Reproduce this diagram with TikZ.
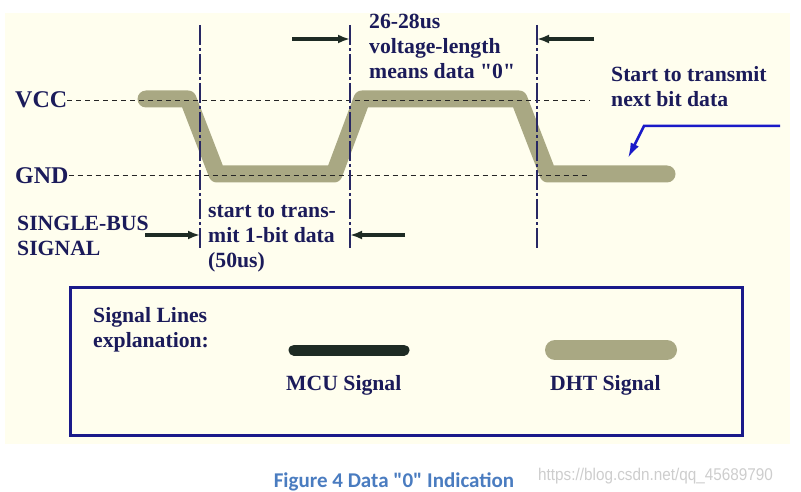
\documentclass[tikz,border=0pt]{standalone}
\usepackage{fontspec}
\setmainfont{Liberation Serif}
\newfontfamily\serifplain{Liberation Serif}
\newfontfamily\capfont{Carlito}
\newfontfamily\wmfont{Liberation Sans}
\usetikzlibrary{arrows.meta}
\definecolor{cream}{RGB}{255,254,238}
\definecolor{navytxt}{RGB}{27,27,90}
\definecolor{vline}{RGB}{40,40,100}
\definecolor{khaki}{RGB}{169,168,131}
\definecolor{darkarr}{RGB}{30,43,36}
\definecolor{bluearr}{RGB}{26,26,200}
\definecolor{boxblue}{RGB}{26,26,138}
\definecolor{capblue}{RGB}{74,124,192}
\definecolor{wmgray}{RGB}{205,205,205}
\newcommand{\dq}{{\serifplain\bfseries"}}
\tikzset{
  lbl/.style={inner sep=0pt, text=navytxt, font=\bfseries\fontsize{21.7}{25}\selectfont, align=left, anchor=base west},
  biglbl/.style={inner sep=0pt, text=navytxt, font=\bfseries\fontsize{24}{24}\selectfont, anchor=base west},
  dhtline/.style={line width=17pt, draw=khaki, line cap=round, line join=round},
  mculine/.style={line width=11pt, draw=darkarr, line cap=round},
  hdash/.style={draw=black!85, line width=0.9pt, dash pattern=on 5pt off 4pt},
  vdash/.style={draw=vline, line width=1.1pt, dash pattern=on 20pt off 3pt on 3pt off 3pt},
  darrow/.style={draw=darkarr, line width=3.4pt, -{Latex[length=12pt,width=9pt]}},
  barrow/.style={draw=bluearr, line width=2.5pt, line join=miter, -{Latex[length=15pt,width=9pt]}},
  legendbox/.style={draw=boxblue, line width=3pt},
}
\begin{document}
\begin{tikzpicture}[x=1pt,y=-1pt]
\useasboundingbox (0,0) rectangle (801,492);
\fill[cream] (5,13) rectangle (790,444);

% DHT signal
\coordinate (s0) at (146,99);
\coordinate (s1) at (188,99);
\coordinate (s2) at (217,174);
\coordinate (s3) at (334,174);
\coordinate (s4) at (362,99);
\coordinate (s5) at (519,99);
\coordinate (s6) at (548,174);
\coordinate (s7) at (667,174);
\draw[dhtline] (s0) -- (s1) -- (s2) -- (s3) -- (s4) -- (s5) -- (s6) -- (s7);

% level labels and dashed lines
\node[biglbl] (vcc) at (15,108) {VCC};
\node[biglbl] (gnd) at (15,183) {GND};
\coordinate (vccend) at (590,100);
\coordinate (gndend) at (590,175);
\draw[hdash] (vcc.east) -- (vcc.east -| vccend);
\draw[hdash] (gnd.east) -- (gnd.east -| gndend);

% vertical timing lines
\coordinate (v1t) at (200,25);  \coordinate (v1b) at (200,250);
\coordinate (v2t) at (350,25);  \coordinate (v2b) at (350,250);
\coordinate (v3t) at (537,25);  \coordinate (v3b) at (537,250);
\draw[vdash] (v1t) -- (v1b);
\draw[vdash] (v2t) -- (v2b);
\draw[vdash] (v3t) -- (v3b);

% dimension arrows
\coordinate (a1s) at (292,39);  \coordinate (a1e) at (350,39);
\coordinate (a2s) at (594,39);  \coordinate (a2e) at (537,39);
\coordinate (a3s) at (145,235); \coordinate (a3e) at (200,235);
\coordinate (a4s) at (405,235); \coordinate (a4e) at (350,235);
\draw[darrow] (a1s) -- (a1e);
\draw[darrow] (a2s) -- (a2e);
\draw[darrow] (a3s) -- (a3e);
\draw[darrow] (a4s) -- (a4e);

% blue pointer
\coordinate (b0) at (780,126);
\coordinate (b1) at (644,126);
\coordinate (b2) at (628,158);
\draw[barrow] (b0) -- (b1) -- (b2);

% texts (anchor = baseline of the last line)
\node[lbl] (t2628) at (369,79) {26-28us\\voltage-length\\means data \dq0\dq};
\node[lbl] (tnext) at (611,107) {Start to transmit\\next bit data};
\node[lbl] (tbus) at (17,255) {SINGLE-BUS\\SIGNAL};
\node[lbl] (tstart) at (208,267) {start to trans-\\mit 1-bit data\\(50us)};

% legend
\draw[legendbox] (70,287) rectangle (742,435);
\node[lbl] (tlines) at (93,347) {Signal Lines\\explanation:};
\coordinate (m0) at (294,350); \coordinate (m1) at (404,350);
\draw[mculine] (m0) -- (m1);
\coordinate (d0) at (555,350); \coordinate (d1) at (667,350);
\draw[dhtline, line width=20pt] (d0) -- (d1);
\node[lbl] (tmcu) at (286,390) {MCU Signal};
\node[lbl] (tdht) at (550,390) {DHT Signal};

% caption and watermark
\node[inner sep=0pt, anchor=base, text=capblue, font=\capfont\bfseries\fontsize{21}{21}\selectfont] (cap) at (394,487) {Figure 4 Data "0" Indication};
\node[inner sep=0pt, anchor=base west, text=wmgray, font=\wmfont\fontsize{17}{17}\selectfont] (wm) at (538,480) {\scalebox{0.9}[1]{https://blog.csdn.net/qq\_45689790}};
\end{tikzpicture}
\end{document}
